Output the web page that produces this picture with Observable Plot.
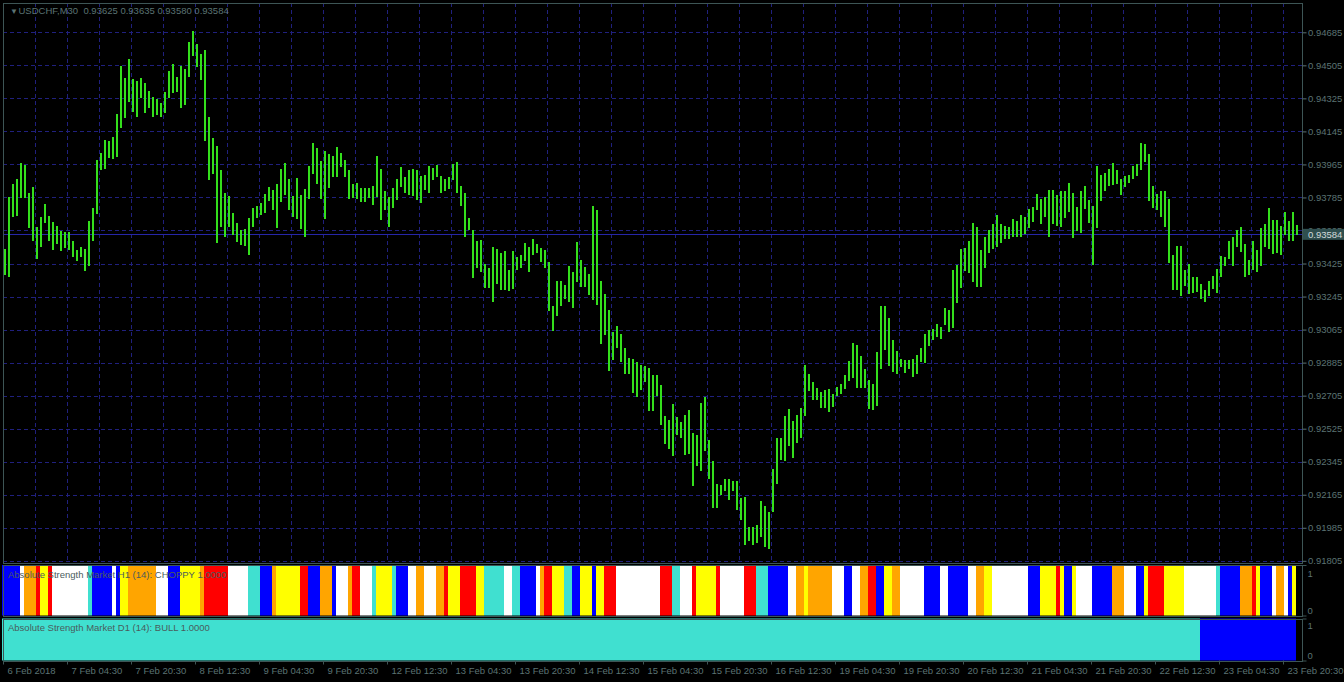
<!DOCTYPE html>
<html><head><meta charset="utf-8">
<script src="https://cdn.jsdelivr.net/npm/d3@7"></script>
<script src="https://cdn.jsdelivr.net/npm/@observablehq/plot@0.6"></script>
<style>
html,body{margin:0;padding:0;background:#000;overflow:hidden;}
#chart{position:relative;width:1344px;height:682px;background:#000;overflow:hidden;}
#chart svg{position:absolute;left:0;background:transparent;}
#chart text{white-space:pre;}
</style></head><body><div id="chart"></div>
<script>
// ---------- data ----------
const symbolTitle = "USDCHF,M30";
const lastOHLC = [0.93625, 0.93635, 0.93580, 0.93584];
// hourly highs / lows (two M30 bars per entry)
const highs = [0.93503,0.93789,0.93861,0.93883,0.93971,0.93960,0.93807,0.93840,0.93625,0.93678,0.93749,0.93683,0.93649,0.93632,0.93603,0.93596,0.93596,0.93547,0.93501,0.93514,0.93503,0.93656,0.93730,0.93989,0.94027,0.94098,0.94094,0.94116,0.94240,0.94501,0.94436,0.94540,0.94429,0.94420,0.94434,0.94409,0.94365,0.94330,0.94320,0.94298,0.94360,0.94476,0.94512,0.94441,0.94501,0.94485,0.94632,0.94692,0.94621,0.94567,0.94589,0.94223,0.94107,0.94065,0.93934,0.93812,0.93792,0.93703,0.93647,0.93607,0.93611,0.93672,0.93730,0.93740,0.93754,0.93803,0.93843,0.93825,0.93858,0.93940,0.93971,0.93885,0.93794,0.93891,0.93800,0.93829,0.93956,0.94080,0.94052,0.93981,0.94038,0.94021,
0.94009,0.94058,0.94025,0.93987,0.93934,0.93858,0.93865,0.93834,0.93838,0.93834,0.93847,0.94009,0.93940,0.93820,0.93787,0.93836,0.93883,0.93950,0.93898,0.93932,0.93938,0.93932,0.93903,0.93909,0.93956,0.93947,0.93963,0.93903,0.93887,0.93896,0.93965,0.93976,0.93849,0.93809,0.93672,0.93607,0.93547,0.93552,0.93425,0.93403,0.93516,0.93505,0.93480,0.93492,0.93390,0.93492,0.93460,0.93472,0.93536,0.93516,0.93558,0.93529,0.93509,0.93498,0.93432,0.93192,0.93329,0.93329,0.93310,0.93410,0.93378,0.93541,0.93443,0.93407,0.93367,0.93736,0.93716,0.93329,0.93258,0.93171,0.93052,0.93087,0.93040,0.92962,0.92912,0.92902,0.92891,0.92872,0.92865,0.92854,
0.92816,0.92816,0.92761,0.92592,0.92570,0.92661,0.92589,0.92561,0.92601,0.92625,0.92501,0.92489,0.92663,0.92696,0.92461,0.92347,0.92225,0.92216,0.92252,0.92252,0.92238,0.92238,0.92149,0.92152,0.91989,0.91989,0.91998,0.92129,0.92101,0.92071,0.92303,0.92474,0.92474,0.92594,0.92630,0.92565,0.92598,0.92638,0.92870,0.92821,0.92780,0.92747,0.92725,0.92738,0.92743,0.92716,0.92752,0.92767,0.92820,0.92892,0.92994,0.92983,0.92920,0.92852,0.92789,0.92771,0.92943,0.93192,0.93192,0.93129,0.93007,0.92947,0.92907,0.92901,0.92901,0.92903,0.92925,0.92965,0.93040,0.93065,0.93067,0.93098,0.93080,0.93185,0.93174,0.93389,0.93416,0.93505,0.93510,0.93545,
0.93645,0.93623,0.93501,0.93572,0.93605,0.93638,0.93687,0.93641,0.93632,0.93623,0.93669,0.93656,0.93692,0.93678,0.93723,0.93732,0.93805,0.93774,0.93790,0.93827,0.93823,0.93796,0.93818,0.93820,0.93865,0.93812,0.93732,0.93818,0.93847,0.93772,0.93736,0.93954,0.93910,0.93918,0.93941,0.93972,0.93932,0.93883,0.93900,0.93905,0.93954,0.93969,0.94083,0.94074,0.94020,0.93850,0.93805,0.93818,0.93818,0.93778,0.93474,0.93523,0.93523,0.93387,0.93423,0.93350,0.93354,0.93314,0.93281,0.93332,0.93358,0.93396,0.93467,0.93463,0.93550,0.93569,0.93605,0.93623,0.93532,0.93445,0.93550,0.93500,0.93620,0.93641,0.93729,0.93663,0.93660,0.93627,0.93705,0.93656,0.93705,0.93636];
const lows = [0.93362,0.93349,0.93676,0.93685,0.93783,0.93780,0.93616,0.93549,0.93452,0.93516,0.93647,0.93549,0.93498,0.93529,0.93492,0.93507,0.93498,0.93461,0.93440,0.93458,0.93385,0.93412,0.93549,0.93696,0.93932,0.93940,0.93998,0.93992,0.94007,0.94163,0.94218,0.94307,0.94252,0.94225,0.94327,0.94243,0.94270,0.94221,0.94234,0.94225,0.94243,0.94325,0.94352,0.94361,0.94270,0.94289,0.94443,0.94556,0.94498,0.94425,0.94094,0.93880,0.93912,0.93538,0.93625,0.93571,0.93625,0.93583,0.93543,0.93525,0.93520,0.93471,0.93625,0.93674,0.93689,0.93702,0.93765,0.93716,0.93620,0.93762,0.93798,0.93716,0.93680,0.93665,0.93612,0.93571,0.93776,0.93911,0.93861,0.93776,0.93667,0.93834,
0.93898,0.93898,0.93952,0.93898,0.93776,0.93780,0.93776,0.93761,0.93761,0.93780,0.93745,0.93789,0.93661,0.93716,0.93623,0.93730,0.93770,0.93843,0.93810,0.93798,0.93794,0.93770,0.93756,0.93825,0.93810,0.93880,0.93898,0.93807,0.93820,0.93829,0.93880,0.93807,0.93738,0.93571,0.93607,0.93347,0.93401,0.93380,0.93292,0.93292,0.93216,0.93312,0.93280,0.93283,0.93276,0.93287,0.93389,0.93398,0.93438,0.93381,0.93470,0.93480,0.93434,0.93401,0.93165,0.93058,0.93138,0.93192,0.93234,0.93214,0.93183,0.93325,0.93298,0.93298,0.93252,0.93225,0.93198,0.92989,0.93038,0.92840,0.92898,0.92967,0.92889,0.92822,0.92825,0.92720,0.92698,0.92734,0.92780,0.92620,
0.92621,0.92703,0.92543,0.92440,0.92412,0.92376,0.92492,0.92476,0.92383,0.92385,0.92212,0.92320,0.92292,0.92401,0.92252,0.92094,0.92094,0.92161,0.92183,0.92138,0.92185,0.92083,0.92025,0.91892,0.91911,0.91892,0.91901,0.91934,0.91881,0.91871,0.92071,0.92225,0.92352,0.92349,0.92432,0.92365,0.92447,0.92474,0.92592,0.92730,0.92680,0.92680,0.92640,0.92638,0.92616,0.92643,0.92701,0.92712,0.92743,0.92785,0.92801,0.92747,0.92747,0.92749,0.92634,0.92629,0.92647,0.92852,0.92952,0.92867,0.92834,0.92821,0.92861,0.92829,0.92849,0.92807,0.92825,0.92890,0.92885,0.92974,0.93007,0.93025,0.93012,0.93089,0.93052,0.93076,0.93210,0.93289,0.93383,0.93372,
0.93323,0.93296,0.93296,0.93400,0.93481,0.93505,0.93514,0.93538,0.93560,0.93560,0.93572,0.93572,0.93572,0.93587,0.93618,0.93652,0.93714,0.93638,0.93678,0.93572,0.93641,0.93629,0.93623,0.93672,0.93705,0.93563,0.93601,0.93590,0.93720,0.93647,0.93418,0.93618,0.93765,0.93820,0.93850,0.93854,0.93856,0.93800,0.93841,0.93865,0.93887,0.93901,0.93936,0.93978,0.93765,0.93729,0.93714,0.93678,0.93623,0.93430,0.93278,0.93281,0.93247,0.93305,0.93260,0.93263,0.93269,0.93232,0.93214,0.93250,0.93287,0.93263,0.93350,0.93410,0.93447,0.93414,0.93514,0.93487,0.93350,0.93360,0.93387,0.93378,0.93414,0.93514,0.93505,0.93478,0.93481,0.93474,0.93581,0.93550,0.93547,0.93578];
const priceTicks = [0.91805,0.91985,0.92165,0.92345,0.92525,0.92705,0.92885,0.93065,0.93245,0.93425,0.93605,0.93785,0.93965,0.94145,0.94325,0.94505,0.94685];
const timeLabels = ["6 Feb 2018","7 Feb 04:30","7 Feb 20:30","8 Feb 12:30","9 Feb 04:30","9 Feb 20:30","12 Feb 12:30","13 Feb 04:30","13 Feb 20:30","14 Feb 12:30","15 Feb 04:30","15 Feb 20:30","16 Feb 12:30","19 Feb 04:30","19 Feb 20:30","20 Feb 12:30","21 Feb 04:30","21 Feb 20:30","22 Feb 12:30","23 Feb 04:30","23 Feb 20:30"];
// indicator states (run colour, run length in M30 bars)
const h1State = ["blue","white","orange","red","yellow","red","white","turquoise","blue","white","blue","yellow","orange","white","blue","yellow","orange","red","white","turquoise","blue","orange","yellow","red","blue","orange","blue","white","orange","red","white","turquoise","yellow","turquoise","blue","white","orange","white","orange","red",
"yellow","red","yellow","turquoise","white","turquoise","blue","white","orange","red","yellow","turquoise","blue","yellow","blue","yellow","red","white","red","turquoise","white","red","yellow","red","white","red","turquoise","blue","white","orange","yellow","orange","white","blue","white","orange","red","blue","yellow","orange",
"white","blue","white","blue","white","orange","yellow","white","blue","yellow","red","yellow","blue","yellow","white","blue","orange","white","blue","yellow","red","yellow","white","turquoise","blue","orange","red","yellow","blue","white","orange","white","blue","yellow"];
const h1Bars = [9,2,6,2,4,2,18,2,10,2,2,4,14,6,6,10,2,12,10,6,6,2,12,4,6,6,2,6,2,4,6,2,8,2,6,4,4,6,4,2,
6,8,4,10,4,4,8,2,2,4,6,4,4,6,2,4,6,22,6,4,6,2,10,2,12,6,6,10,4,4,2,12,6,4,4,4,4,4,4,4,
12,8,4,10,4,4,4,18,6,8,2,2,4,2,8,10,6,6,4,2,8,10,16,2,10,6,2,2,6,2,4,2,2,2];
const d1State = ["turquoise","blue"];
const d1Bars = [599,48];
const stateNames = ["blue","white","orange","yellow","red","turquoise"];
const stateColors = ["#0000ff","#ffffff","#ff8c00","#ffff00","#ff0000","#40e0d0"];
const h1Label = "Absolute Strength Market H1 (14): CHOPPY 1.0000";
const d1Label = "Absolute Strength Market D1 (14): BULL 1.0000";

// ---------- styling ----------
const FONT = "'Liberation Sans', Arial, sans-serif";
const textColor = "#5b7373";
const frameColor = "#3d5555";
const gridColor = "#20207e";
const lineColor = "#2626a8";
const barColor = "#34df1c";
const xScale = {domain:[0,649], range:[3,1301], axis:null};

function runsOf(states, lens){
  let s = 0;
  return states.map((st,j)=>{const r={state:st, x1:s-0.5, x2:s+lens[j]-0.5}; s+=lens[j]; return r;});
}
const bars = highs.map((h,k)=>({x:2*k+0.5, hi:h, lo:lows[k]}));
const gridIdx = d3.range(16, 647, 16);
const labelIdx = timeLabels.map((_,i)=>32*i);
const lastClose = lastOHLC[3];
const priceFmt = d3.format(".5f");
const titleText = symbolTitle + "  " + lastOHLC.map(priceFmt).join(" ");
const colorScale = {domain: stateNames, range: stateColors};
const container = document.getElementById("chart");

// ---------- main price pane ----------
const main = Plot.plot({
  width:1344, height:570,
  marginLeft:2.5, marginRight:42.5, marginTop:2.5, marginBottom:7.5,
  x: xScale,
  y: {domain:[priceTicks[0], priceTicks[priceTicks.length-1]], range:[560.8, 32.3], axis:null},
  style:{background:"transparent", color:textColor, fontFamily:FONT, fontSize:"9px", overflow:"hidden"},
  marks:[
    Plot.ruleY(priceTicks, {stroke:gridColor, strokeDasharray:"4,3", shapeRendering:"crispEdges"}),
    Plot.ruleX(gridIdx, {stroke:gridColor, strokeDasharray:"4,3", shapeRendering:"crispEdges"}),
    Plot.ruleY([lastClose], {stroke:lineColor, shapeRendering:"crispEdges"}),
    Plot.ruleX(bars, {x:"x", y1:"lo", y2:"hi", stroke:barColor, strokeWidth:2, shapeRendering:"crispEdges"}),
    Plot.frame({stroke:frameColor, shapeRendering:"crispEdges"}),
    Plot.axisY(priceTicks, {anchor:"right", label:null, tickSize:4, tickPadding:2, tickFormat:priceFmt, color:textColor, fontSize:9.5}),
    Plot.text([lastClose], {y:d=>d, frameAnchor:"right", dx:6, textAnchor:"start", lineAnchor:"middle", text:d=>priceFmt(d), fill:"#d2dada", fontSize:9.5}),
    Plot.text(["▼"], {frameAnchor:"top-left", dx:7, dy:8, lineAnchor:"middle", fill:textColor, fontSize:8}),
    Plot.text([titleText], {frameAnchor:"top-left", dx:15.5, dy:7.8, textAnchor:"start", lineAnchor:"middle", fill:textColor, fontSize:9.5})
  ]
});
main.style.top = "0px";
container.appendChild(main);
// dark box behind the current-price label on the price axis (placed through the y scale)
(function(){
  const label = priceFmt(lastClose);
  const t = Array.from(main.querySelectorAll("text")).filter(e => e.textContent === label).pop();
  if (!t) return;
  const yPos = main.scale("y").apply(lastClose);
  const r = document.createElementNS("http://www.w3.org/2000/svg","rect");
  r.setAttribute("x", 1303); r.setAttribute("y", yPos - 5.5);
  r.setAttribute("width", 41); r.setAttribute("height", 11);
  r.setAttribute("fill", "#2f4f4f");
  const g = t.parentNode;
  g.parentNode.insertBefore(r, g);
})();

// ---------- indicator panes ----------
function pane(states, lens, label, top, height, mt, mb, dyTop, dyBot, labelDy, withXAxis){
  const marks = [
    Plot.rect(runsOf(states, lens), {x1:"x1", x2:"x2", y1:0, y2:1, fill:"state"}),
    Plot.frame({stroke:frameColor, shapeRendering:"crispEdges"}),
    Plot.axisY([0,1], {anchor:"right", label:null, tickSize:4, tickFormat:()=>"", color:frameColor}),
    Plot.text([1], {y:d=>d, frameAnchor:"right", dx:5.5, dy:dyTop, textAnchor:"start", lineAnchor:"middle", text:d=>String(d), fill:textColor, fontSize:9.5}),
    Plot.text([0], {y:d=>d, frameAnchor:"right", dx:5.5, dy:dyBot, textAnchor:"start", lineAnchor:"middle", text:d=>String(d), fill:textColor, fontSize:9.5}),
    Plot.text([label], {frameAnchor:"top-left", dx:5, dy:labelDy, textAnchor:"start", lineAnchor:"middle", fill:"#4a5c5c", fontSize:9.5})
  ];
  if (withXAxis) {
    marks.push(Plot.axisX(labelIdx, {anchor:"bottom", label:null, tickSize:4, tickFormat:()=>"", color:frameColor}));
    marks.push(Plot.text(labelIdx, {x:d=>d, text:(d,i)=>timeLabels[i], frameAnchor:"bottom", dy:12.5, dx:4, textAnchor:"start", lineAnchor:"bottom", fill:textColor, fontSize:9.5}));
  }
  const p = Plot.plot({
    width:1344, height, marginLeft:2.5, marginRight:42.5, marginTop:mt, marginBottom:mb,
    x: xScale,
    y: {domain:[0,1], axis:null},
    color: colorScale,
    style:{background:"transparent", color:textColor, fontFamily:FONT, fontSize:"9px"},
    marks
  });
  p.style.top = top + "px";
  container.appendChild(p);
}
pane(h1State, h1Bars, h1Label, 560, 60, 5, 4.5, 8.3, -5.5, 9.7, false);
pane(d1State, d1Bars, d1Label, 615, 67, 3.5, 21.5, 6.5, -5.5, 9.2, true);
</script></body></html>
